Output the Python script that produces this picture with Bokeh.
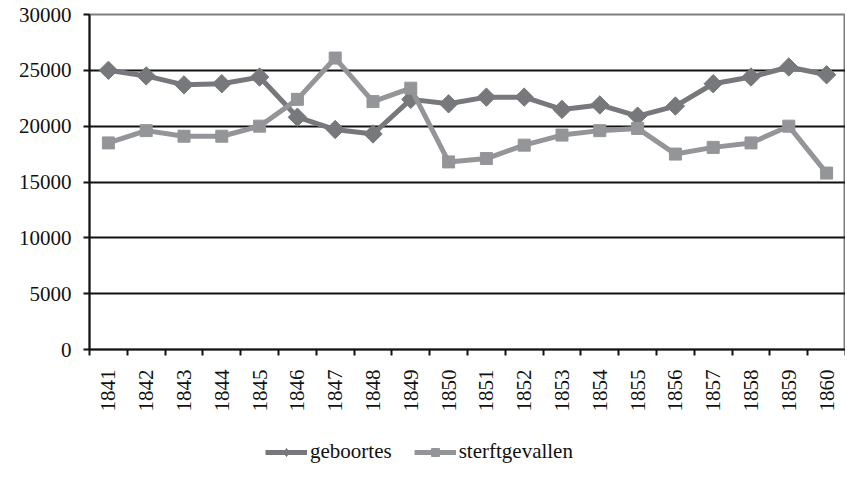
import math
from bokeh.plotting import figure
from bokeh.layouts import column
from bokeh.models import (Range1d, FixedTicker, Legend, LegendItem, ColumnDataSource)
from bokeh.embed import file_html
from bokeh.resources import INLINE

years = [str(y) for y in range(1841, 1861)]
geboortes = [25000, 24500, 23700, 23800, 24400, 20800, 19700, 19300, 22400, 22000,
             22600, 22600, 21500, 21900, 20900, 21800, 23800, 24400, 25300, 24600]
sterftgevallen = [18500, 19600, 19100, 19100, 20000, 22400, 26100, 22200, 23400, 16800,
                  17100, 18300, 19200, 19600, 19800, 17500, 18100, 18500, 20000, 15800]
y_ticks = [0, 5000, 10000, 15000, 20000, 25000, 30000]

FONT = "Liberation Serif"
C_GEB = "#77787b"
C_STERF = "#939598"

xpos = [i + 0.5 for i in range(len(years))]
src = ColumnDataSource(dict(x=xpos, g=geboortes, s=sterftgevallen))

p = figure(width=845, height=426, output_backend="svg", toolbar_location=None,
           x_range=Range1d(0, len(years)), y_range=Range1d(0, 30000),
           min_border_left=89, min_border_top=14, min_border_right=0,
           min_border_bottom=77)

p.xgrid.visible = False
p.ygrid.ticker = FixedTicker(ticks=y_ticks)
p.ygrid.grid_line_color = "#111111"
p.ygrid.grid_line_width = 2

p.outline_line_color = "#7f7f7f"
p.outline_line_width = 2

# x axis
p.xaxis.ticker = FixedTicker(ticks=xpos, minor_ticks=list(range(len(years) + 1)))
p.xaxis.major_label_overrides = {x: y for x, y in zip(xpos, years)}
p.xaxis.major_tick_out = 0
p.xaxis.major_tick_in = 0
p.xaxis.minor_tick_out = 6
p.xaxis.minor_tick_in = 0
p.xaxis.minor_tick_line_color = "#111111"
p.xaxis.minor_tick_line_width = 2
p.xaxis.axis_line_color = "#111111"
p.xaxis.axis_line_width = 2
p.xaxis.major_label_orientation = math.pi / 2
p.xaxis.major_label_text_font = FONT
p.xaxis.major_label_text_font_size = "21px"
p.xaxis.major_label_text_color = "#111111"
p.xaxis.major_label_standoff = 14

# y axis
p.yaxis.ticker = FixedTicker(ticks=y_ticks)
p.yaxis.minor_tick_line_color = None
p.yaxis.major_tick_out = 6
p.yaxis.major_tick_in = 0
p.yaxis.major_tick_line_color = "#111111"
p.yaxis.major_tick_line_width = 2
p.yaxis.axis_line_color = "#111111"
p.yaxis.axis_line_width = 2
p.yaxis.major_label_text_font = FONT
p.yaxis.major_label_text_font_size = "21px"
p.yaxis.major_label_text_color = "#111111"
p.yaxis.major_label_standoff = 12
p.yaxis.formatter.use_scientific = False

DIAMOND = dict(marker="square", size=13, angle=math.pi / 4,
               fill_color=C_GEB, line_color=C_GEB)
SQUARE = dict(marker="square", size=12, fill_color=C_STERF, line_color=C_STERF)

p.line("x", "g", source=src, line_color=C_GEB, line_width=5)
p.scatter("x", "g", source=src, **DIAMOND)
p.line("x", "s", source=src, line_color=C_STERF, line_width=5)
p.scatter("x", "s", source=src, **SQUARE)

# legend strip below the chart
lg = figure(width=845, height=53, output_backend="svg", toolbar_location=None,
            x_range=Range1d(-10, -5), y_range=Range1d(-10, -5),
            min_border_left=0, min_border_right=0, min_border_top=0,
            min_border_bottom=0)
lg.axis.visible = False
lg.grid.visible = False
lg.outline_line_color = None
l1 = lg.line("x", "g", source=src, line_color=C_GEB, line_width=5)
m1 = lg.scatter("x", "g", source=src, marker="diamond", size=18,
                fill_color=C_GEB, line_color=C_GEB)
l2 = lg.line("x", "s", source=src, line_color=C_STERF, line_width=5)
m2 = lg.scatter("x", "s", source=src, **SQUARE)

legend = Legend(items=[LegendItem(label="geboortes", renderers=[l1, m1]),
                       LegendItem(label="sterftgevallen", renderers=[l2, m2])],
                orientation="horizontal", location=(176, 15),
                border_line_color=None, background_fill_alpha=0,
                label_text_font=FONT, label_text_font_size="21px",
                label_text_color="#111111", glyph_width=42, label_standoff=3,
                spacing=22, margin=0, padding=4)
lg.add_layout(legend)

layout = column(p, lg, spacing=0)
open("out.html", "w").write(file_html(layout, INLINE))
